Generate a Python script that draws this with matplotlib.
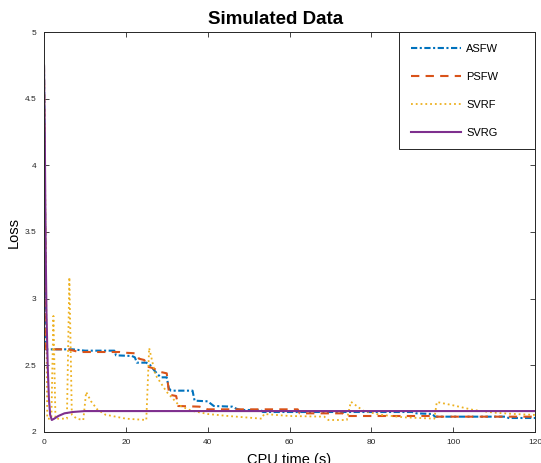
#!/usr/bin/env python
# -*- coding: utf-8 -*-

import matplotlib
matplotlib.use("Agg")
import matplotlib.pyplot as plt
plt.rcParams["font.family"] = ["Liberation Sans", "DejaVu Sans"]

# values (CPU time in s, loss)
asfw_t = [0, 0.5, 7, 10, 17.2, 17.6, 21.5, 22.2, 22.7, 25, 26, 27, 28.5, 30, 30.5, 31,
          36.3, 36.8, 40, 41.5, 46, 47, 48, 53, 53.5, 90, 91, 95, 95.5, 113, 113.5, 120]
asfw_v = [4.75, 2.62, 2.62, 2.61, 2.61, 2.575, 2.57, 2.56, 2.52, 2.52, 2.5, 2.46, 2.41, 2.41, 2.33, 2.31,
          2.31, 2.235, 2.23, 2.195, 2.19, 2.175, 2.165, 2.165, 2.15, 2.15, 2.14, 2.135, 2.115, 2.115, 2.105, 2.105]

psfw_t = [0, 0.5, 6, 8.5, 18.5, 19.5, 22.5, 23.2, 24.5, 25.3, 26.5, 28.5, 30, 30.6, 32.3, 32.8,
          38, 40, 62, 62.5, 73, 73.5, 95, 96, 120]
psfw_v = [4.75, 2.62, 2.62, 2.6, 2.6, 2.595, 2.59, 2.55, 2.54, 2.49, 2.48, 2.45, 2.44, 2.28, 2.27, 2.195,
          2.19, 2.17, 2.17, 2.14, 2.14, 2.12, 2.12, 2.115, 2.115]

svrf_t = [0, 0.8, 1.8, 2.3, 2.8, 4, 5.6, 6.2, 6.8, 8, 9.6, 10.3, 11.5, 13, 15, 20, 25, 25.7,
          27.2, 30, 33, 36, 40, 45, 53.2, 53.8, 60, 68.5, 69.5, 74, 75, 78, 82, 88, 95.4, 96,
          100, 105, 110, 115, 120]
svrf_v = [4.75, 2.1, 2.1, 2.87, 2.1, 2.1, 2.1, 3.16, 2.13, 2.1, 2.09, 2.3, 2.23, 2.17, 2.13, 2.1, 2.09, 2.63,
          2.43, 2.3, 2.2, 2.16, 2.135, 2.12, 2.1, 2.135, 2.12, 2.115, 2.09, 2.09, 2.227, 2.16, 2.13, 2.11, 2.1, 2.225,
          2.2, 2.165, 2.145, 2.135, 2.128]

svrg_t = [0, 0.2, 0.4, 0.6, 0.9, 1.2, 1.5, 1.9, 2.5, 3.5, 5, 7, 10, 120]
svrg_v = [4.75, 4.2, 3.4, 2.9, 2.5, 2.25, 2.13, 2.09, 2.1, 2.12, 2.14, 2.15, 2.157, 2.157]

labels = ["ASFW", "PSFW", "SVRF", "SVRG"]
xticks = [0, 20, 40, 60, 80, 100, 120]
yticks = [2, 2.5, 3, 3.5, 4, 4.5, 5]

fig = plt.figure(figsize=(5.41, 4.63), dpi=100)
ax = fig.add_axes([44 / 541, 31 / 463, 491 / 541, 400 / 463])

# drawn in MATLAB order, last one on top
ax.plot(asfw_t, asfw_v, color="#0072BD", lw=1.5, ls=(0, (3, 1.2, 1, 1.2)), label=labels[0])
ax.plot(psfw_t, psfw_v, color="#D95319", lw=1.5, ls=(0, (4, 3)), label=labels[1])
ax.plot(svrf_t, svrf_v, color="#EDB120", lw=1.3, ls=":", label=labels[2])
ax.plot(svrg_t, svrg_v, color="#7E2F8E", lw=1.5, ls="-", label=labels[3])

ax.set_xlim(0, 120)
ax.set_ylim(2, 5)
ax.set_xticks(xticks)
ax.set_yticks(yticks)
ax.set_xticklabels([str(v) for v in xticks])
ax.set_yticklabels([f"{v:g}" for v in yticks])
ax.tick_params(direction="in", length=3.5, width=0.6, top=True, right=True,
               labelsize=6, colors="#262626")
ax.tick_params(axis="y", pad=5.5)
ax.tick_params(axis="x", pad=5)
for s in ax.spines.values():
    s.set_linewidth(0.7)
    s.set_color("#262626")

ax.set_title("Simulated Data", fontsize=13.5, fontweight="bold", pad=6, x=0.4725)
ax.set_xlabel("CPU time (s)", fontsize=10.5, labelpad=5)
ax.set_ylabel("Loss", fontsize=10.5, labelpad=3)

leg = ax.legend(loc="upper left", bbox_to_anchor=(0.723, 0.0, 0.277, 1.0), mode="expand",
                fontsize=8, handlelength=4.5, handletextpad=0.5, labelspacing=1.62,
                borderpad=1.05, borderaxespad=0, fancybox=False, framealpha=1,
                edgecolor="#262626")
leg.get_frame().set_linewidth(0.7)

fig.savefig("out.png", dpi=100)
